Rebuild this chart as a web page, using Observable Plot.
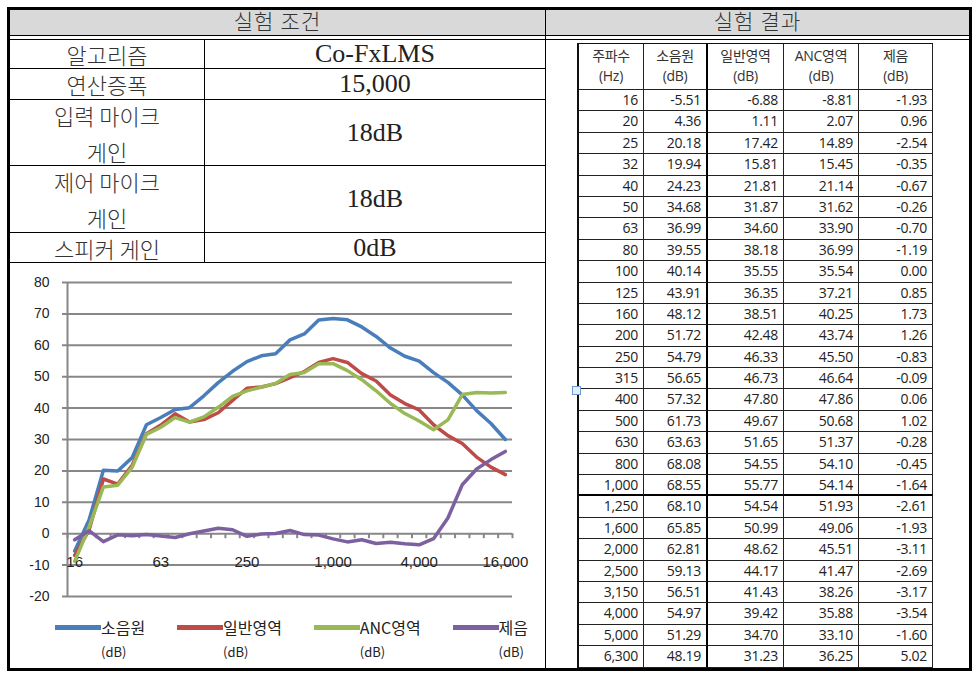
<!DOCTYPE html>
<html><head><meta charset="utf-8">
<script src="https://cdn.jsdelivr.net/npm/d3@7"></script>
<script src="https://cdn.jsdelivr.net/npm/@observablehq/plot@0.6"></script>
<style>
body{margin:0;background:#fff;width:978px;height:677px;position:relative;overflow:hidden;font-family:"Noto Sans CJK KR",sans-serif;color:#222;}
.abs{position:absolute;box-sizing:border-box;}
#outer{left:7px;top:7px;width:965px;height:664px;border:3px solid #000;}
#hdrbg{left:10px;top:10px;width:959px;height:25px;background:#d9d9d9;}
.hline{height:1px;background:#000;}
.vline{width:1px;background:#000;}
.hdrtxt{top:10px;height:25px;line-height:25px;text-align:center;font-size:21px;font-family:"Liberation Serif","Noto Sans CJK KR";font-weight:300;color:#333;letter-spacing:1px;}
#cond{left:10px;top:40px;display:grid;grid-template-columns:195px 340px;grid-template-rows:29px 31px 66px 67px 30px;}
#cond div{border-bottom:1px solid #000;display:flex;align-items:center;justify-content:center;text-align:center;box-sizing:border-box;}
#cond .lab{border-right:1px solid #000;font-size:22px;line-height:36px;font-weight:300;color:#333;white-space:pre-line;}
#cond .val{font-family:"Liberation Serif",serif;font-size:26px;color:#222;}
#chartbox{left:10px;top:263px;}
#legend{left:55px;top:614px;width:473px;display:flex;justify-content:space-between;font-size:16px;}
.litem{display:flex;align-items:flex-start;}
.lsw{width:46px;height:5px;margin-top:11px;}
.ltx{display:flex;flex-direction:column;line-height:26px;}
.ltx span:last-child{font-size:13px;line-height:24px;font-family:"Noto Sans CJK KR";}
#results{left:577px;top:43px;display:grid;grid-template-columns:65px 64px 76px 75px 74px;grid-template-rows:46px repeat(27,21.4px);border-left:2px solid #111;border-top:1px solid #111;font-family:"Open Sans","Noto Sans CJK KR",sans-serif;font-size:14px;}
#results div{border-right:1px solid #222;border-bottom:1px solid #222;box-sizing:border-box;text-align:right;padding-right:5px;line-height:20px;letter-spacing:-0.3px;}
#results div.h{text-align:center;padding:2px 0 0 0;color:#333;line-height:20px;white-space:pre-line;}
#results div.thickR{border-right:2px solid #000;}
#results div.thickB{border-bottom:2px solid #000;}
#handle{left:572px;top:386px;width:9px;height:9px;border:1px solid #6a9bd8;background:#e4eefa;}
</style></head>
<body>
<script>
// ---- data ----
const conditionHeader = "실험 조건";
const resultHeader = "실험 결과";
const conditionLabels = ["알고리즘", "연산증폭", "입력 마이크\n게인", "제어 마이크\n게인", "스피커 게인"];
const conditionValues = ["Co-FxLMS", "15,000", "18dB", "18dB", "0dB"];

const freqLabels = ["16","20","25","32","40","50","63","80","100","125","160","200","250","315","400","500","630","800","1,000","1,250","1,600","2,000","2,500","3,150","4,000","5,000","6,300","8,000","10,000","12,500","16,000"];
const tableHeaders = ["주파수\n(Hz)", "소음원\n(dB)", "일반영역\n(dB)", "ANC영역\n(dB)", "제음\n(dB)"];

const source    = [-5.51, 4.36, 20.18, 19.94, 24.23, 34.68, 36.99, 39.55, 40.14, 43.91, 48.12, 51.72, 54.79, 56.65, 57.32, 61.73, 63.63, 68.08, 68.55, 68.10, 65.85, 62.81, 59.13, 56.51, 54.97, 51.29, 48.19];
const general   = [-6.88, 1.11, 17.42, 15.81, 21.81, 31.87, 34.60, 38.18, 35.55, 36.35, 38.51, 42.48, 46.33, 46.73, 47.80, 49.67, 51.65, 54.55, 55.77, 54.54, 50.99, 48.62, 44.17, 41.43, 39.42, 34.70, 31.23];
const anc       = [-8.81, 2.07, 14.89, 15.45, 21.14, 31.62, 33.90, 36.99, 35.54, 37.21, 40.25, 43.74, 45.50, 46.64, 47.86, 50.68, 51.37, 54.10, 54.14, 51.93, 49.06, 45.51, 41.47, 38.26, 35.88, 33.10, 36.25];
const reduction = [-1.93, 0.96, -2.54, -0.35, -0.67, -0.26, -0.70, -1.19, 0.00, 0.85, 1.73, 1.26, -0.83, -0.09, 0.06, 1.02, -0.28, -0.45, -1.64, -2.61, -1.93, -3.11, -2.69, -3.17, -3.54, -1.60, 5.02];
// 8,000 – 16,000 Hz: only in the chart
const sourceHigh    = [44.2, 39.2, 35.1, 30.0];
const generalHigh   = [28.7, 24.4, 21.2, 18.8];
const ancHigh       = [44.3, 45.0, 44.8, 45.0];
const reductionHigh = [15.6, 20.6, 23.6, 26.2];

const seriesNames = ["소음원", "일반영역", "ANC영역", "제음"];
const seriesUnit = "(dB)";
const seriesColors = ["#4A7EBB", "#BE4B48", "#98B954", "#7D60A0"];
const yTicks = [-20, -10, 0, 10, 20, 30, 40, 50, 60, 70, 80];
const xTickLabels = ["16", "63", "250", "1,000", "4,000", "16,000"];

// ---- frame & condition table ----
function el(cls, style, html) {
  const d = document.createElement("div");
  d.className = cls; if (style) d.style.cssText = style; if (html != null) d.textContent = html;
  document.body.appendChild(d); return d;
}
el("abs", "", null).id = "outer";
el("abs", "", null).id = "hdrbg";
el("abs hdrtxt", "left:10px;width:535px;", conditionHeader);
el("abs hdrtxt", "left:546px;width:423px;", resultHeader);
el("abs hline", "left:10px;top:35px;width:959px;");
el("abs hline", "left:10px;top:39px;width:959px;");
el("abs vline", "left:545px;top:10px;height:660px;");

const cond = el("abs", "", null); cond.id = "cond";
conditionLabels.forEach((lab, i) => {
  const a = document.createElement("div"); a.className = "lab"; a.textContent = lab; cond.appendChild(a);
  const b = document.createElement("div"); b.className = "val"; b.textContent = conditionValues[i]; cond.appendChild(b);
});

// ---- chart ----
const fullSeries = [source.concat(sourceHigh), general.concat(generalHigh), anc.concat(ancHigh), reduction.concat(reductionHigh)];
const long = fullSeries.flatMap((vals, s) => vals.map((v, i) => ({i, v, s: seriesNames[s]})));
const boundaries = d3.range(freqLabels.length + 1).map(i => i - 0.5);

const chart = Plot.plot({
  width: 534, height: 357,
  marginLeft: 57, marginRight: 32, marginTop: 19, marginBottom: 24,
  x: {domain: [-0.5, freqLabels.length - 0.5], axis: null},
  y: {domain: [-20, 80], axis: null},
  color: {domain: seriesNames, range: seriesColors},
  style: {fontFamily: "'Liberation Sans', 'Noto Sans CJK KR', sans-serif", fontSize: "14px", color: "#222", background: "transparent", overflow: "visible"},
  marks: [
    Plot.ruleY(yTicks, {stroke: "#878787", strokeWidth: 2, insetLeft: -5}),
    Plot.ruleX([-0.5], {stroke: "#878787", strokeWidth: 2}),
    Plot.ruleX(boundaries, {y1: () => 0, y2: () => 0, insetBottom: -5, stroke: "#878787", strokeWidth: 2}),
    Plot.axisY({ticks: yTicks, tickSize: 0, tickPadding: 18, tickFormat: d => String(d), label: null, fontSize: 14}),
    Plot.text(xTickLabels, {x: d => freqLabels.indexOf(d), y: () => 0, text: d => d, dy: 28, fontSize: 15}),
    Plot.line(long, {x: "i", y: "v", z: "s", stroke: "s", strokeWidth: 3.5, strokeLinejoin: "round", strokeLinecap: "round"})
  ]
});
const box = el("abs", "", null); box.id = "chartbox"; box.appendChild(chart);

// legend
const legend = el("abs", "", null); legend.id = "legend";
seriesNames.forEach((n, i) => {
  const it = document.createElement("div"); it.className = "litem";
  const sw = document.createElement("div"); sw.className = "lsw"; sw.style.background = seriesColors[i];
  const tx = document.createElement("div"); tx.className = "ltx";
  const a = document.createElement("span"); a.textContent = n;
  const b = document.createElement("span"); b.textContent = seriesUnit;
  tx.appendChild(a); tx.appendChild(b); it.appendChild(sw); it.appendChild(tx); legend.appendChild(it);
});

// ---- results table ----
const res = el("abs", "", null); res.id = "results";
tableHeaders.forEach((h, c) => {
  const d = document.createElement("div"); d.className = "h" + (c === 1 ? " thickR" : ""); d.textContent = h; res.appendChild(d);
});
source.forEach((v, r) => {
  const row = [freqLabels[r], v.toFixed(2), general[r].toFixed(2), anc[r].toFixed(2), reduction[r].toFixed(2)];
  row.forEach((t, c) => {
    const d = document.createElement("div");
    let cls = [];
    if (c === 1) cls.push("thickR");
    if (freqLabels[r] === "1,000") cls.push("thickB");
    d.className = cls.join(" ");
    d.textContent = t; res.appendChild(d);
  });
});
el("abs", "", null).id = "handle";
</script>
</body></html>
